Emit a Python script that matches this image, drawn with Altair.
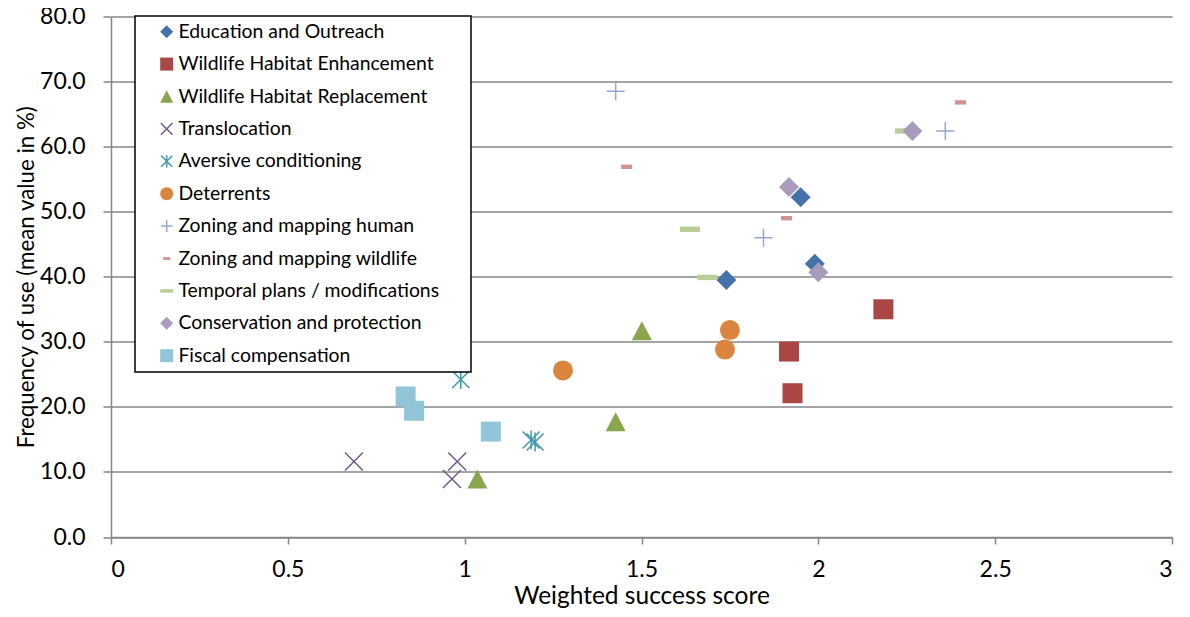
import altair as alt
import pandas as pd

# ---- data ----
series = [
    "Education and Outreach",
    "Wildlife Habitat Enhancement",
    "Wildlife Habitat Replacement",
    "Translocation",
    "Aversive conditioning",
    "Deterrents",
    "Zoning and mapping human",
    "Zoning and mapping wildlife",
    "Temporal plans / modifications",
    "Conservation and protection",
    "Fiscal compensation",
]
edu_x = [1.74, 1.95, 1.99]
edu_y = [39.5, 52.2, 42.0]
whe_x = [2.184, 1.917, 1.927]
whe_y = [35.0, 28.5, 22.1]
whr_x = [1.501, 1.427, 1.036]
whr_y = [31.7, 17.7, 8.9]
tra_x = [0.687, 0.979, 0.964]
tra_y = [11.6, 11.6, 8.9]
ave_x = [0.989, 1.188, 1.199]
ave_y = [24.2, 14.9, 14.6]
det_x = [1.278, 1.750, 1.736]
det_y = [25.6, 31.8, 28.8]
zmh_x = [1.427, 2.359, 1.845]
zmh_y = [68.5, 62.4, 46.0]
zmw_x = [2.402, 1.458, 1.910]
zmw_y = [66.8, 56.9, 49.0]
tmp_x = [2.245, 1.637, 1.686]
tmp_y = [62.4, 47.3, 39.9]
con_x = [2.266, 1.917, 2.000]
con_y = [62.4, 53.8, 40.7]
fis_x = [0.833, 0.857, 1.074]
fis_y = [21.6, 19.4, 16.2]

colors = ["#4572A7", "#AA4643", "#89A54E", "#71588F", "#4198AF", "#DB843D",
          "#93A9CF", "#D19392", "#B9CD96", "#A99BBD", "#92C5D8"]
filled = [True, True, True, False, False, True, False, True, True, True, True]
shapes = [
    "M0,-1L1,0L0,1L-1,0Z",
    "M-1,-1L1,-1L1,1L-1,1Z",
    "M0,-0.95L1,0.95L-1,0.95Z",
    "M-0.9,-0.9L0.9,0.9M-0.9,0.9L0.9,-0.9",
    "M-0.85,-0.85L0.85,0.85M-0.85,0.85L0.85,-0.85M0,-0.95L0,0.95",
    "circle",
    "M0,-0.9L0,0.9M-0.9,0L0.9,0",
    "M-0.55,-0.22L0.55,-0.22L0.55,0.22L-0.55,0.22Z",
    "M-1,-0.27L1,-0.27L1,0.27L-1,0.27Z",
    "M0,-1L1,0L0,1L-1,0Z",
    "M-1,-1L1,-1L1,1L-1,1Z",
]

xs = [edu_x, whe_x, whr_x, tra_x, ave_x, det_x, zmh_x, zmw_x, tmp_x, con_x, fis_x]
ys = [edu_y, whe_y, whr_y, tra_y, ave_y, det_y, zmh_y, zmw_y, tmp_y, con_y, fis_y]
rows = []
for s, xv, yv in zip(series, xs, ys):
    for a, b in zip(xv, yv):
        rows.append({"Series": s, "x": a, "y": b})
df = pd.DataFrame(rows)

fill_range = [c if f else "transparent" for c, f in zip(colors, filled)]
stroke_range = ["transparent" if f else c for c, f in zip(colors, filled)]

FONT = "Lato"
legend = alt.Legend(
    title="\u00a0", titleOrient="right", titleFontSize=1, titlePadding=26,
    orient="none", legendX=24, legendY=-0.5,
    fillColor="white", strokeColor="black",
    padding=6, symbolOffset=16, labelOffset=2, rowPadding=11.4,
    symbolSize=169, symbolStrokeWidth=1.5,
    labelFont=FONT, labelFontSize=19.4, labelColor="black", labelLimit=400,
)

chart = alt.Chart(df).mark_point(opacity=1, size=400, strokeWidth=1.5).encode(
    x=alt.X("x:Q", scale=alt.Scale(domain=[0, 3], nice=False, zero=False),
            axis=alt.Axis(title="Weighted success score", values=[0, 0.5, 1, 1.5, 2, 2.5, 3],
                          format="~g", grid=False, tickSize=7, labelPadding=14,
                          titleBaseline="alphabetic", titleY=66)),
    y=alt.Y("y:Q", scale=alt.Scale(domain=[0, 80], nice=False),
            axis=alt.Axis(title="Frequency of use (mean value in %)",
                          values=[0, 10, 20, 30, 40, 50, 60, 70, 80], format=".1f",
                          grid=True, tickSize=8, labelPadding=18,
                          titleBaseline="alphabetic", titleX=-78, titleAngle=-90)),
    shape=alt.Shape("Series:N", scale=alt.Scale(domain=series, range=shapes), legend=legend),
    fill=alt.Fill("Series:N", scale=alt.Scale(domain=series, range=fill_range), legend=legend),
    stroke=alt.Stroke("Series:N", scale=alt.Scale(domain=series, range=stroke_range), legend=legend),
).properties(
    width=1061, height=520.5,
    autosize=alt.AutoSizeParams(type="none"),
    padding={"left": 103, "top": 8.5, "right": 10, "bottom": 71},
).configure_view(stroke=None).configure_legend(strokeWidth=1.5).configure_axis(
    domainColor="#868686", domainWidth=1.5, tickColor="#868686", tickWidth=1.5,
    gridColor="#868686", gridWidth=1.6,
    labelFont=FONT, labelFontSize=23, labelColor="black",
    titleFont=FONT, titleFontWeight="normal", titleColor="black",
).configure_axisX(titleFontSize=24.5).configure_axisY(titleFontSize=22.3)

chart.save("out.html", embed_options={"renderer": "svg", "actions": False})
